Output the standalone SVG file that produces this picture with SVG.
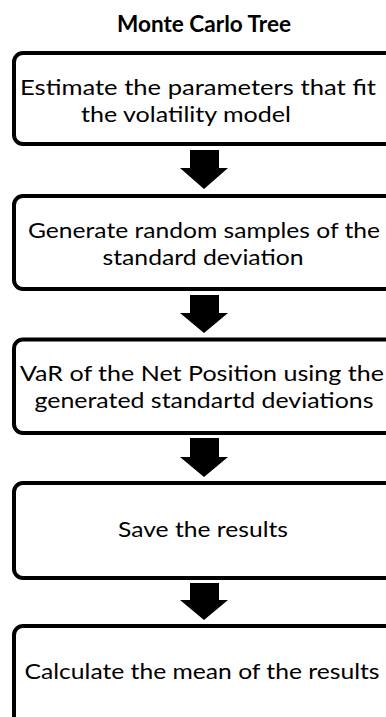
<svg xmlns="http://www.w3.org/2000/svg" width="386" height="717" viewBox="0 0 386 717">
  <style>
    .box { fill: #ffffff; stroke: #000000; stroke-width: 4; }
    .lbl { font-family: "Lato", "Liberation Sans", sans-serif; font-size: 22px; fill: #000000; text-anchor: middle; }
    .title { font-family: "Lato", "Liberation Sans", sans-serif; font-size: 23px; font-weight: bold; fill: #000000; text-anchor: middle; }
    .arrow { fill: #000000; stroke: none; }
  </style>
  <rect x="0" y="0" width="386" height="717" fill="#ffffff"/>

  <text class="title" x="204" y="32" textLength="174" lengthAdjust="spacingAndGlyphs">Monte Carlo Tree</text>

  <g id="connectors">
    <polygon class="arrow" points="190,150 219,150 219,168 228,168 204,189 180,168 190,168"/>
    <polygon class="arrow" points="190,295 219,295 219,313 228,313 204,333 180,313 190,313"/>
    <polygon class="arrow" points="190,438 219,438 219,457 228,457 204,477 180,457 190,457"/>
    <polygon class="arrow" points="190,583 219,583 219,600 228,600 204,620 180,600 190,600"/>
  </g>

  <g id="estimate">
    <rect class="box" x="14" y="53" width="382" height="91" rx="9"/>
    <text class="lbl" x="198" y="95" textLength="356" lengthAdjust="spacingAndGlyphs">Estimate the parameters that fit</text>
    <text class="lbl" x="186" y="122" textLength="210" lengthAdjust="spacingAndGlyphs">the volatility model</text>
  </g>

  <g id="generate">
    <rect class="box" x="14" y="196" width="382" height="93" rx="9"/>
    <text class="lbl" x="204" y="238" textLength="352" lengthAdjust="spacingAndGlyphs">Generate random samples of the</text>
    <text class="lbl" x="203" y="265" textLength="201" lengthAdjust="spacingAndGlyphs">standard deviation</text>
  </g>

  <g id="var">
    <rect class="box" x="14" y="339.5" width="382" height="93.5" rx="9"/>
    <text class="lbl" x="202" y="381" textLength="364" lengthAdjust="spacingAndGlyphs">VaR of the Net Position using the</text>
    <text class="lbl" x="204" y="408" textLength="339" lengthAdjust="spacingAndGlyphs">generated standartd deviations</text>
  </g>

  <g id="save">
    <rect class="box" x="14" y="483" width="382" height="95" rx="9"/>
    <text class="lbl" x="203" y="537" textLength="170" lengthAdjust="spacingAndGlyphs">Save the results</text>
  </g>

  <g id="mean">
    <rect class="box" x="14" y="626" width="382" height="100" rx="9"/>
    <text class="lbl" x="202" y="679" textLength="355" lengthAdjust="spacingAndGlyphs">Calculate the mean of the results</text>
  </g>
</svg>
